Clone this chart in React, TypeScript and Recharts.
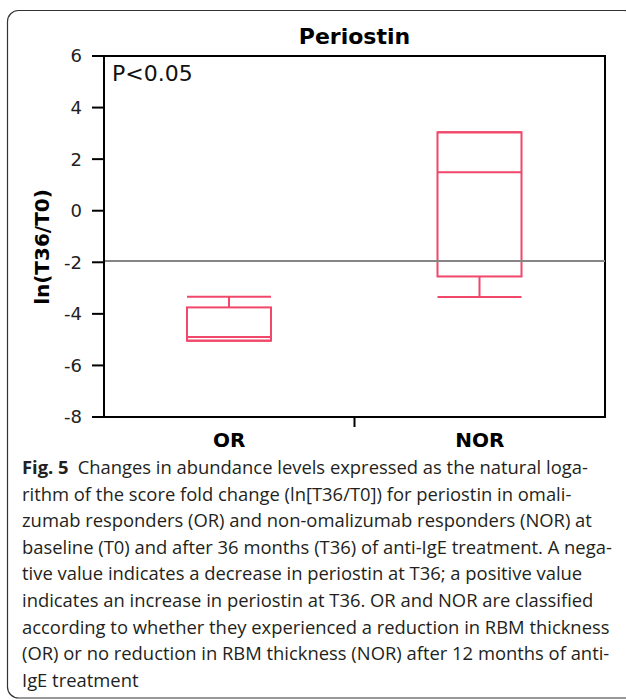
import React from 'react';
import { ComposedChart, Bar, XAxis, YAxis, ReferenceLine, ReferenceArea } from 'recharts';

// ---- data ----
const categories = ['OR', 'NOR'];
const categoryPositions = [0.5, 1.5];
const minValues = [-5.04, -3.35];
const q1Values = [-5.04, -2.55];
const medianValues = [-4.9, 1.49];
const q3Values = [-3.75, 3.04];
const maxValues = [-3.34, 3.04];
const yTicks = [-8, -6, -4, -2, 0, 2, 4, 6];
const xTicks = [0.5, 1, 1.5];
const referenceValue = -1.95;
const chartTitle = 'Periostin';
const pValueText = 'P<0.05';
const yAxisTitle = 'ln(T36/T0)';
const captionBold = 'Fig. 5';
const captionLines = [
  'Changes in abundance levels expressed as the natural loga-',
  'rithm of the score fold change (ln[T36/T0]) for periostin in omali-',
  'zumab responders (OR) and non-omalizumab responders (NOR) at',
  'baseline (T0) and after 36 months (T36) of anti-IgE treatment. A nega-',
  'tive value indicates a decrease in periostin at T36; a positive value',
  'indicates an increase in periostin at T36. OR and NOR are classified',
  'according to whether they experienced a reduction in RBM thickness',
  '(OR) or no reduction in RBM thickness (NOR) after 12 months of anti-',
  'IgE treatment',
];

const data = categories.map((name, i) => ({
  name,
  pos: categoryPositions[i],
  range: [minValues[i], maxValues[i]],
  min: minValues[i],
  q1: q1Values[i],
  median: medianValues[i],
  q3: q3Values[i],
  max: maxValues[i],
}));

const BOX_COLOR = '#f0476a';
const FONT = '"DejaVu Sans", Verdana, sans-serif';

const BoxShape = (props: any) => {
  const { x, y, width, height, payload } = props;
  if (x == null || y == null) return null;
  const top = Math.min(y, y + height);
  const bottom = Math.max(y, y + height);
  const { min, max, q1, median, q3 } = payload;
  const toPx = (v: number) => (max === min ? top : top + ((max - v) / (max - min)) * (bottom - top));
  const cx = x + width / 2;
  const yq1 = toPx(q1);
  const yq3 = toPx(q3);
  const ymed = toPx(median);
  const ymin = toPx(min);
  const ymax = toPx(max);
  const s = { stroke: BOX_COLOR, strokeWidth: 2, fill: 'none' };
  return (
    <g>
      <line x1={cx} x2={cx} y1={ymax} y2={yq3} {...s} />
      <line x1={cx} x2={cx} y1={yq1} y2={ymin} {...s} />
      <line x1={x} x2={x + width} y1={ymax} y2={ymax} {...s} />
      <line x1={x} x2={x + width} y1={ymin} y2={ymin} {...s} />
      <rect x={x} y={yq3} width={width} height={yq1 - yq3} {...s} />
      <line x1={x} x2={x + width} y1={ymed} y2={ymed} {...s} />
    </g>
  );
};

const XTick = (props: any) => {
  const { x, y, payload } = props;
  const idx = categoryPositions.indexOf(payload.value);
  if (idx < 0) {
    return <line x1={x} x2={x} y1={y} y2={y + 10} stroke="#000" strokeWidth={2} />;
  }
  return (
    <text x={x} y={y + 29.5} textAnchor="middle" fontFamily={FONT} fontWeight="bold" fontSize={20} fill="#000">
      {categories[idx]}
    </text>
  );
};

export default function App() {
  return (
    <div style={{ position: 'absolute', left: 0, top: 0, width: 626, height: 700, overflow: 'hidden', background: '#fff' }}>
      <div style={{ position: 'absolute', left: 0, top: 0 }}>
        <ComposedChart
          width={626}
          height={460}
          data={data}
          margin={{ top: 56, right: 21, left: 44, bottom: 13 }}
        >
          <XAxis
            dataKey="pos"
            type="number"
            domain={[0, 2]}
            allowDataOverflow
            ticks={xTicks}
            interval={0}
            height={30}
            tickSize={0}
            tickMargin={0}
            tickLine={false}
            axisLine={{ stroke: '#000', strokeWidth: 2 }}
            tick={<XTick />}
          />
          <YAxis
            type="number"
            domain={[-8, 6]}
            ticks={yTicks}
            interval={0}
            allowDataOverflow
            width={60}
            tickSize={12}
            tickMargin={10}
            axisLine={{ stroke: '#000', strokeWidth: 2 }}
            tickLine={{ stroke: '#000', strokeWidth: 2 }}
            tick={{ fontFamily: FONT, fontSize: 18, fill: '#222' }}
          />
          <ReferenceArea x1={0} x2={2} y1={-8} y2={6} fill="none" fillOpacity={0} stroke="#000" strokeWidth={2} />
          <ReferenceLine y={referenceValue} stroke="#858585" strokeWidth={2} />
          <Bar dataKey="range" barSize={84} shape={<BoxShape />} isAnimationActive={false} />
        </ComposedChart>
      </div>
      <svg width={626} height={700} style={{ position: 'absolute', left: 0, top: 0, pointerEvents: 'none' }}>
        <rect x={7.5} y={10.5} width={628} height={687.5} rx={11} ry={11} fill="none" stroke="#333" strokeWidth={1.2} />
        <text x={354.5} y={44} textAnchor="middle" fontFamily={FONT} fontWeight="bold" fontSize={22} fill="#000">
          {chartTitle}
        </text>
        <text x={112} y={80.5} fontFamily={FONT} fontSize={22} fill="#111">
          {pValueText}
        </text>
        <text
          x={42}
          y={247}
          transform="rotate(-90, 42, 247)"
          textAnchor="middle"
          dominantBaseline="central"
          fontFamily={FONT}
          fontWeight="bold"
          fontSize={20}
          fill="#000"
        >
          {yAxisTitle}
        </text>
        {captionLines.map((line, i) => (
          <text key={i} x={22} y={474 + i * 26.6} fontFamily='"Open Sans", sans-serif' fontSize={18.4} fill="#231f20">
            {i === 0 ? (
              <>
                <tspan fontWeight="bold">{captionBold}</tspan>
                <tspan dx={9}>{line}</tspan>
              </>
            ) : (
              line
            )}
          </text>
        ))}
      </svg>
    </div>
  );
}
